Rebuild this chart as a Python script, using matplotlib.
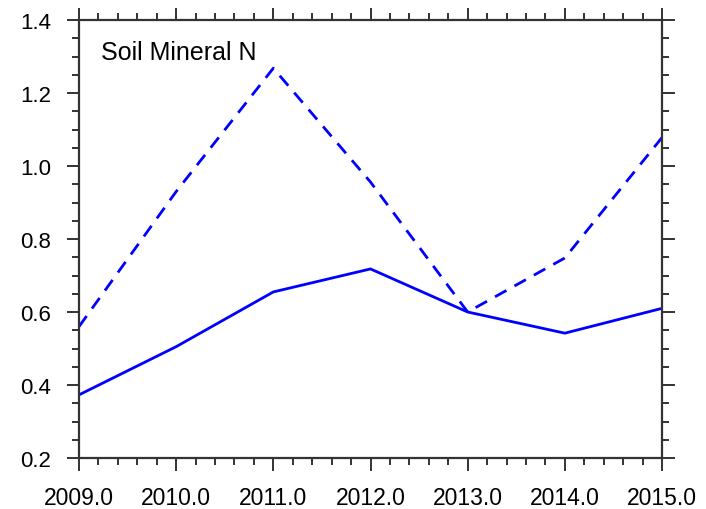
import matplotlib
matplotlib.use("Agg")
import matplotlib.pyplot as plt
from matplotlib.ticker import MultipleLocator, FormatStrFormatter

plt.rcParams['font.family'] = ['Liberation Sans', 'DejaVu Sans']

years = [2009, 2010, 2011, 2012, 2013, 2014, 2015]
solid_vals = [0.373, 0.505, 0.655, 0.718, 0.60, 0.542, 0.61]
dashed_vals = [0.56, 0.93, 1.268, 0.956, 0.60, 0.748, 1.078]
title_text = "Soil Mineral N"

fig = plt.figure(figsize=(7.06, 5.10), dpi=100)
ax = fig.add_axes([79 / 706, 51 / 510, (662 - 79) / 706, (459 - 21) / 510])

ax.plot(years, solid_vals, color='#0000ff', lw=2.0, solid_joinstyle='miter')
ax.plot(years, dashed_vals, color='#0000ff', lw=2.0, dashes=(4.7, 3.3),
        dash_capstyle='butt')

ax.set_xlim(2009, 2015)
ax.set_ylim(0.2, 1.4)
ax.xaxis.set_major_locator(MultipleLocator(1))
ax.xaxis.set_minor_locator(MultipleLocator(0.2))
ax.yaxis.set_major_locator(MultipleLocator(0.2))
ax.yaxis.set_minor_locator(MultipleLocator(0.05))
ax.xaxis.set_major_formatter(FormatStrFormatter('%.1f'))
ax.yaxis.set_major_formatter(FormatStrFormatter('%.1f'))

for s in ax.spines.values():
    s.set_linewidth(1.6)
    s.set_color('#333333')

ax.tick_params(which='both', direction='out', top=True, right=True,
               color='#333333', width=1.4, labelcolor='black')
ax.tick_params(axis='x', labelsize=16.5)
ax.tick_params(axis='y', labelsize=16)
ax.tick_params(which='major', length=9, pad=11)
ax.tick_params(which='minor', length=5)

ax.text(0.037, 0.9105, title_text, transform=ax.transAxes, fontsize=18,
        ha='left', va='baseline')

fig.savefig('out.png', dpi=100)
